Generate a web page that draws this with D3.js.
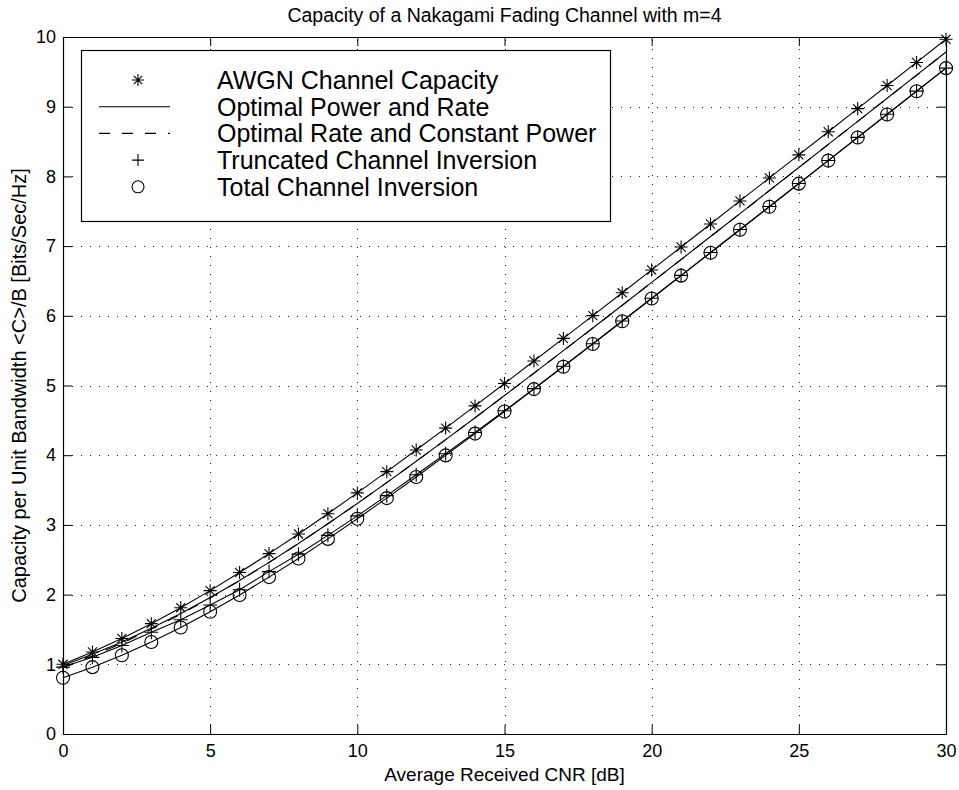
<!DOCTYPE html>
<html>
<head>
<meta charset="utf-8">
<script src="https://cdn.jsdelivr.net/npm/d3@7/dist/d3.min.js"></script>
<style>
  html, body { margin: 0; padding: 0; background: #fff; }
  svg { display: block; }
  text { font-family: "Liberation Sans", Arial, Helvetica, sans-serif; fill: #000; }
</style>
</head>
<body>
<svg id="chart" width="959" height="790"></svg>
<script>
// ---- data ----
const cnrDb = [0,1,2,3,4,5,6,7,8,9,10,11,12,13,14,15,16,17,18,19,20,21,22,23,24,25,26,27,28,29,30];
const awgn = [1.000,1.176,1.370,1.583,1.812,2.057,2.317,2.588,2.870,3.161,3.459,3.764,4.075,4.389,4.707,5.028,5.351,5.676,6.002,6.330,6.658,6.987,7.317,7.648,7.978,8.309,8.641,8.972,9.304,9.635,9.967];
const optPowerRate = [0.984,1.143,1.321,1.516,1.728,1.958,2.203,2.462,2.734,3.017,3.308,3.607,3.913,4.223,4.538,4.856,5.177,5.500,5.825,6.151,6.479,6.807,7.137,7.466,7.797,8.128,8.459,8.790,9.121,9.453,9.785];
const optRateConstPower = [0.954,1.119,1.301,1.501,1.718,1.951,2.199,2.460,2.733,3.016,3.307,3.607,3.912,4.222,4.537,4.855,5.176,5.499,5.824,6.150,6.478,6.806,7.136,7.465,7.796,8.127,8.458,8.789,9.120,9.452,9.784];
const truncInversion = [0.960,1.100,1.270,1.460,1.640,1.850,2.070,2.330,2.580,2.850,3.130,3.420,3.720,4.020,4.325,4.637,4.955,5.277,5.600,5.925,6.252,6.580,6.909,7.238,7.568,7.898,8.229,8.560,8.891,9.223,9.554];
const totalInversion = [0.807,0.959,1.130,1.320,1.528,1.754,1.995,2.251,2.519,2.799,3.088,3.384,3.688,3.997,4.310,4.627,4.948,5.270,5.595,5.921,6.248,6.576,6.905,7.235,7.565,7.896,8.227,8.558,8.889,9.221,9.553];
const xTicks = [0,5,10,15,20,25,30];
const yTicks = [0,1,2,3,4,5,6,7,8,9,10];
const legendLabels = ["AWGN Channel Capacity","Optimal Power and Rate","Optimal Rate and Constant Power","Truncated Channel Inversion","Total Channel Inversion"];
const titleText = "Capacity of a Nakagami Fading Channel with m=4";
const xLabelText = "Average Received CNR [dB]";
const yLabelText = "Capacity per Unit Bandwidth <C>/B [Bits/Sec/Hz]";

// ---- layout ----
const L = 63, R = 946, T = 37, B = 734;
const svg = d3.select("#chart");
const x = d3.scaleLinear().domain([0,30]).range([L,R]);
const y = d3.scaleLinear().domain([0,10]).range([B,T]);

// grid
const grid = svg.append("g").attr("stroke","#222").attr("stroke-width",1).attr("stroke-dasharray","1,8");
grid.selectAll(".gx").data(xTicks.slice(1,-1)).join("line")
  .attr("x1",d=>Math.round(x(d))+0.5).attr("x2",d=>Math.round(x(d))+0.5).attr("y1",B).attr("y2",T);
grid.selectAll(".gy").data(yTicks.slice(1,-1)).join("line")
  .attr("y1",d=>Math.round(y(d))+0.5).attr("y2",d=>Math.round(y(d))+0.5).attr("x1",L).attr("x2",R);

// axes (ticks inside)
const tk = 9;
const fmt = d3.format("d");
const axB = svg.append("g").attr("transform",`translate(0,${B})`)
  .call(d3.axisBottom(x).tickValues(xTicks).tickFormat(fmt).tickSizeInner(-tk).tickSizeOuter(0).tickPadding(10));
const axT = svg.append("g").attr("transform",`translate(0,${T})`)
  .call(d3.axisTop(x).tickValues(xTicks).tickFormat("").tickSizeInner(-tk).tickSizeOuter(0));
const axLft = svg.append("g").attr("transform",`translate(${L},0)`)
  .call(d3.axisLeft(y).tickValues(yTicks).tickFormat(fmt).tickSizeInner(-tk).tickSizeOuter(0).tickPadding(7));
const axRt = svg.append("g").attr("transform",`translate(${R},0)`)
  .call(d3.axisRight(y).tickValues(yTicks).tickFormat("").tickSizeInner(-tk).tickSizeOuter(0));
[axB,axT,axLft,axRt].forEach(a=>{
  a.select(".domain").attr("stroke","#000").attr("stroke-width",1.2);
  a.selectAll(".tick line").attr("stroke","#000").attr("stroke-width",1);
  a.selectAll("text").attr("font-size",18).attr("font-family","'Liberation Sans', Arial, sans-serif").attr("fill","#000");
});

const plot = svg.append("g");
const line = d3.line().x((d,i)=>x(cnrDb[i])).y(d=>y(d));
function drawLine(vals, dash){
  plot.append("path").datum(vals).attr("d",line).attr("fill","none").attr("stroke","#000")
    .attr("stroke-width",1.1).attr("stroke-dasharray",dash||null);
}
drawLine(optRateConstPower,"11,12");
drawLine(optPowerRate);
drawLine(awgn);
drawLine(truncInversion);
drawLine(totalInversion);

function star(g, cx, cy, s){
  const a = s*0.7;
  g.append("path").attr("d",`M${cx-s},${cy}L${cx+s},${cy}M${cx},${cy-s}L${cx},${cy+s}M${cx-a},${cy-a}L${cx+a},${cy+a}M${cx-a},${cy+a}L${cx+a},${cy-a}`)
    .attr("stroke","#000").attr("stroke-width",1.1).attr("fill","none");
}
function plus(g, cx, cy, s){
  g.append("path").attr("d",`M${cx-s},${cy}L${cx+s},${cy}M${cx},${cy-s}L${cx},${cy+s}`)
    .attr("stroke","#000").attr("stroke-width",1.1).attr("fill","none");
}
function circ(g, cx, cy, r){
  g.append("circle").attr("cx",cx).attr("cy",cy).attr("r",r).attr("stroke","#000").attr("stroke-width",1.1).attr("fill","none");
}
const mk = plot.append("g");
awgn.forEach((v,i)=>star(mk, x(cnrDb[i]), y(v), 6.5));
truncInversion.forEach((v,i)=>plus(mk, x(cnrDb[i]), y(v), 7));
totalInversion.forEach((v,i)=>circ(mk, x(cnrDb[i]), y(v), 6.5));

// legend
const lg = svg.append("g");
const lx0 = 81, ly0 = 50, lw = 529, lh = 171;
lg.append("rect").attr("x",lx0+0.5).attr("y",ly0+0.5).attr("width",lw).attr("height",lh)
  .attr("fill","#fff").attr("stroke","#000").attr("stroke-width",1.2);
const rowY = i => ly0 + 30 + i*26.7;
const symX = 138, lineX1 = 99, lineX2 = 170, textX = 217;
legendLabels.forEach((t,i)=>{
  lg.append("text").attr("x",textX).attr("y",rowY(i)).attr("dy","0.36em").attr("font-size",25).text(t);
});
star(lg, symX, rowY(0), 6);
lg.append("line").attr("x1",lineX1).attr("x2",lineX2).attr("y1",rowY(1)).attr("y2",rowY(1)).attr("stroke","#000").attr("stroke-width",1.1);
lg.append("line").attr("x1",lineX1).attr("x2",lineX2).attr("y1",rowY(2)).attr("y2",rowY(2)).attr("stroke","#000").attr("stroke-width",1.1).attr("stroke-dasharray","11,12");
plus(lg, symX, rowY(3), 6);
circ(lg, symX, rowY(4), 6);

// titles
svg.append("text").attr("x",(L+R)/2).attr("y",22).attr("text-anchor","middle").attr("font-size",19.5).text(titleText);
svg.append("text").attr("x",(L+R)/2).attr("y",781).attr("text-anchor","middle").attr("font-size",19).text(xLabelText);
svg.append("text").attr("transform",`translate(26,${(T+B)/2}) rotate(-90)`).attr("text-anchor","middle").attr("font-size",20).text(yLabelText);
</script>
</body>
</html>
